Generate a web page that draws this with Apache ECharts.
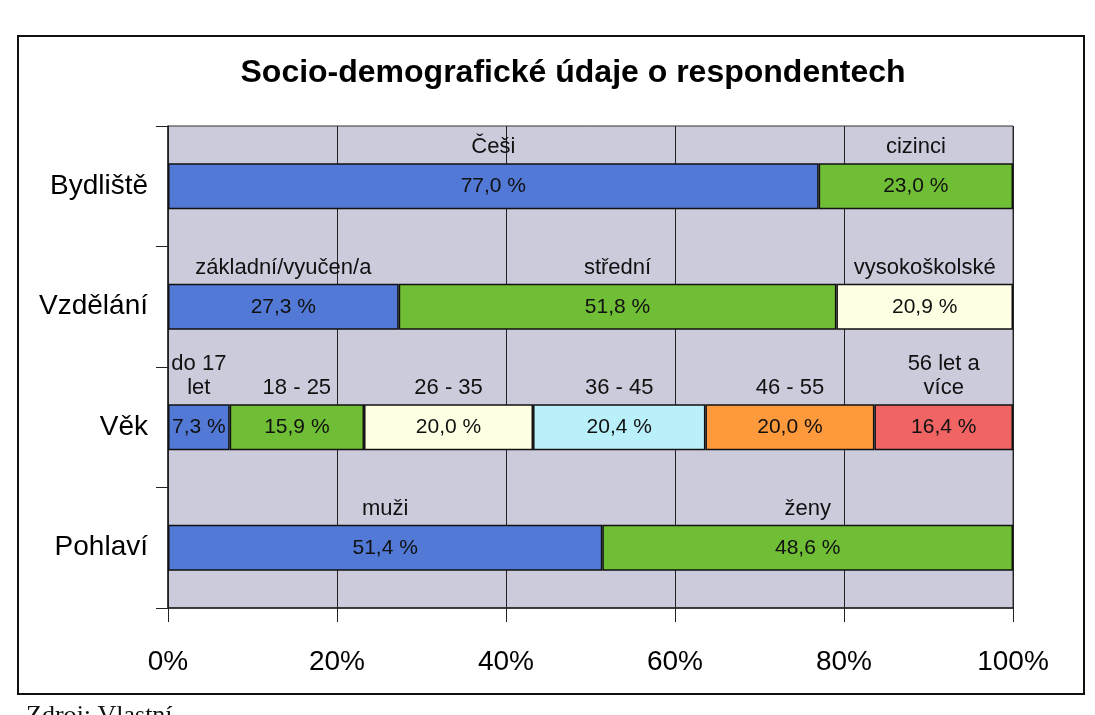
<!DOCTYPE html>
<html>
<head>
<meta charset="utf-8">
<script src="https://cdn.jsdelivr.net/npm/echarts@6/dist/echarts.min.js"></script>
<style>
  html, body { margin: 0; padding: 0; background: #fff; }
  #chart { width: 1095px; height: 715px; }
</style>
</head>
<body>
<div id="chart"></div>
<script>
var categories = ['Bydliště', 'Vzdělání', 'Věk', 'Pohlaví'];

var bydlisteNames = ['Češi', 'cizinci'];
var bydlisteValues = [77.0, 23.0];

var vzdelaniNames = ['základní/vyučen/a', 'střední', 'vysokoškolské'];
var vzdelaniValues = [27.3, 51.8, 20.9];

var vekNames = ['do 17\nlet', '18 - 25', '26 - 35', '36 - 45', '46 - 55', '56 let a\nvíce'];
var vekValues = [7.3, 15.9, 20.0, 20.4, 20.0, 16.4];

var pohlaviNames = ['muži', 'ženy'];
var pohlaviValues = [51.4, 48.6];

var xTicks = ['0%', '20%', '40%', '60%', '80%', '100%'];

var segColors = ['#5379d6', '#6fbe35', '#ffffe3', '#b9f0f9', '#ff9a3c', '#f06464'];
var font = '"Liberation Sans", Arial, sans-serif';

var groups = [
  [bydlisteNames, bydlisteValues],
  [vzdelaniNames, vzdelaniValues],
  [vekNames, vekValues],
  [pohlaviNames, pohlaviValues]
];

var series = [];
groups.forEach(function (g, ci) {
  var names = g[0], values = g[1];
  values.forEach(function (v, i) {
    var data = categories.map(function (c, k) { return k === ci ? v : '-'; });
    // visible segment with the value inside
    series.push({
      type: 'bar',
      stack: 'val',
      barWidth: 46,
      barGap: '-100%',
      data: data,
      itemStyle: { color: segColors[i], borderColor: '#111', borderWidth: 1.5 },
      label: {
        show: true,
        position: 'inside',
        color: '#111',
        fontFamily: font,
        fontSize: 21,
        formatter: function (p) { return p.value.toFixed(1).replace('.', ',') + ' %'; }
      }
    });
    // invisible twin that carries the segment name above the bar
    series.push({
      type: 'bar',
      stack: 'name',
      barWidth: 46,
      barGap: '-100%',
      data: data,
      silent: true,
      itemStyle: { color: 'rgba(0,0,0,0)', borderWidth: 0 },
      label: {
        show: true,
        position: 'top',
        distance: 4,
        color: '#111',
        fontFamily: font,
        fontSize: 22,
        lineHeight: 24,
        formatter: names[i]
      }
    });
  });
});

var chart = echarts.init(document.getElementById('chart'));
chart.setOption({
  animation: false,
  title: {
    text: 'Socio-demografické údaje o respondentech',
    left: 568,
    textAlign: 'center',
    top: 52,
    textStyle: { fontFamily: font, fontSize: 32, fontWeight: 'bold', color: '#000' }
  },
  grid: { left: 168, right: 82, top: 126, bottom: 107, show: true, backgroundColor: '#cbcbdc', borderColor: '#333', borderWidth: 1 },
  xAxis: {
    type: 'value',
    min: 0,
    max: 100,
    interval: 20,
    axisLine: { show: true, lineStyle: { color: '#222', width: 1.5 } },
    axisTick: { show: true, length: 14, lineStyle: { color: '#222' } },
    splitLine: { show: true, lineStyle: { color: '#222', width: 1 } },
    axisLabel: {
      margin: 40,
      color: '#000',
      fontFamily: font,
      fontSize: 28,
      formatter: function (v) { return xTicks[v / 20]; }
    }
  },
  yAxis: {
    type: 'category',
    inverse: true,
    data: categories,
    axisLine: { show: true, lineStyle: { color: '#222', width: 1.5 } },
    axisTick: { show: true, length: 12, lineStyle: { color: '#222' } },
    axisLabel: { margin: 20, color: '#000', fontFamily: font, fontSize: 28 }
  },
  graphic: [
    {
      type: 'rect',
      shape: { x: 18, y: 36, width: 1066, height: 658 },
      style: { fill: 'none', stroke: '#111', lineWidth: 2 }
    },
    {
      type: 'text',
      left: 26,
      top: 703,
      style: { text: 'Zdroj: Vlastní', fill: '#111', font: '26px "Liberation Serif", "Times New Roman", serif' }
    }
  ],
  series: series
});
</script>
</body>
</html>
